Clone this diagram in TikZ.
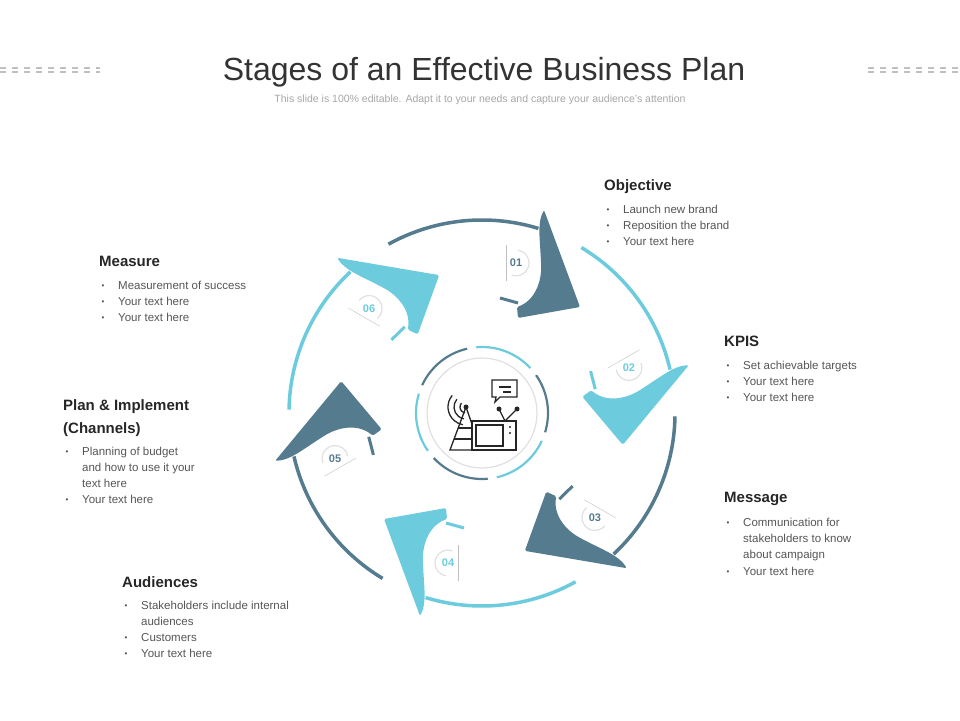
\documentclass[tikz,border=0pt]{standalone}
\usepackage{fontspec}
\setmainfont{Liberation Sans}
\definecolor{darkc}{HTML}{557B8E}
\definecolor{lightc}{HTML}{6CCBDD}
\definecolor{txt}{HTML}{555555}
\begin{document}
\begin{tikzpicture}[x=1pt,y=1pt,
  head/.style={font=\bfseries\fontsize{15}{17}\selectfont,text=black!85,anchor=base west,inner sep=0},
  bl/.style={font=\fontsize{11.5}{13}\selectfont,text=txt,anchor=base west,inner sep=0},
  bul/.style={font=\fontsize{8}{9}\selectfont,text=txt,anchor=base,inner sep=0}]
\useasboundingbox (0,0) rectangle (960,720);
% title
\node[font=\fontsize{32}{36}\selectfont,text=black!80] (title) at (484,648) {Stages of an Effective Business Plan};
\node[font=\fontsize{10.5}{12}\selectfont,text=black!35] (sub) at (480,620) {This slide is 100\% editable. Adapt it to your needs and capture your audience's attention};
\foreach \yy in {648,652}{
 \draw[black!25,line width=2,dash pattern=on 6pt off 6pt] (0,\yy) -- (100,\yy);
 \draw[black!25,line width=2,dash pattern=on 6pt off 6pt] (868,\yy) -- (960,\yy);}
% cycle
\foreach \k/\c/\lab in {0/darkc/01,1/lightc/02,2/darkc/03,3/lightc/04,4/darkc/05,5/lightc/06}{
 \begin{scope}[shift={(482,307)},rotate=-60*\k]
  \draw[\c,line width=3.5] (119:193) arc[start angle=119,end angle=73,radius=193];
  \fill[\c,rounded corners=1.5pt] (36,95) -- (35,106) .. controls (52,112) and (60,130) .. (59,150) .. controls (58,175) and (55,190) .. (62,203) -- (98,106) -- cycle;
  \draw[\c,line width=3] (18,115) -- (36,110);
  \draw[black!12,line width=1.2] (34,150) ++(-110:13) arc[start angle=-110,end angle=80,radius=13];
  \draw[black!25,line width=0.4] (24,168) -- (24,132);
  \node[font=\bfseries\fontsize{11}{12}\selectfont,text=\c] (n\k) at (34,150) {\lab};
 \end{scope}}
% center
\foreach \a/\c in {95/lightc,35/darkc,-25/lightc,-85/darkc,-145/lightc,-205/darkc}{
 \draw[\c,line width=2.2] (482,307) ++(\a:66) arc[start angle=\a,end angle=\a-52,radius=66];}
\draw[black!12,line width=1.2,fill=white] (482,307) circle (55);
% icon
\begin{scope}[black!85,line width=1.3]
 \foreach \r in {6,12,18}{\draw (466,313) ++(140:\r) arc[start angle=140,end angle=-100+360,radius=\r];}
 \fill (466,313) circle (2.5);
 \draw (466,313) -- (450,270) -- (482,270) (466,313) -- (474,290);
 \draw (458,292)--(472,292) (454,281)--(478,281);
 \draw[fill=white] (472,270) rectangle (516,299);
 \draw (476,274) rectangle (503,295);
 \fill (510,293) circle (1.2) (510,287) circle (1.2);
 \draw (505,299) -- (499,311) (505,299) -- (517,311);
 \fill (499,311) circle (2.5) (517,311) circle (2.5);
 \draw (492,323) -- (492,340) -- (517,340) -- (517,323) -- (500,323) -- (495,318) -- (496,323) -- cycle;
 \draw (499,333)--(511,333) (503,328)--(511,328);
\end{scope}
% texts
\node[head] (h1) at (604,529) {Objective};
\node[head] (h2) at (724,373) {KPIS};
\node[head] (h3) at (724,217) {Message};
\node[head] (h4) at (122,133) {Audiences};
\node[head] (h5a) at (63,309) {Plan \& Implement};
\node[head] (h5b) at (63,286) {(Channels)};
\node[head] (h6) at (99,453) {Measure};
\foreach \bx/\tx/\yy/\t/\b in {
 608/623/510/Launch new brand/1, 608/623/494/Reposition the brand/1, 608/623/478/Your text here/1,
 728/743/354/Set achievable targets/1, 728/743/338/Your text here/1, 728/743/322/Your text here/1,
 728/743/197/Communication for/1, 728/743/181/stakeholders to know/0, 728/743/165/about campaign/0, 728/743/149/Your text here/1,
 126/141/115/Stakeholders include internal/1, 126/141/99/audiences/0, 126/141/83/Customers/1, 126/141/67/Your text here/1,
 67/82/268/Planning of budget/1, 67/82/252/and how to use it your/0, 67/82/236/text here/0, 67/82/220/Your text here/1,
 103/118/434/Measurement of success/1, 103/118/418/Your text here/1, 103/118/402/Your text here/1}{
 \node[bl] at (\tx,\yy-4) {\t};
 \ifnum\b=1 \node[bul] at (\bx,\yy-3) {•};\fi}
\end{tikzpicture}
\end{document}
